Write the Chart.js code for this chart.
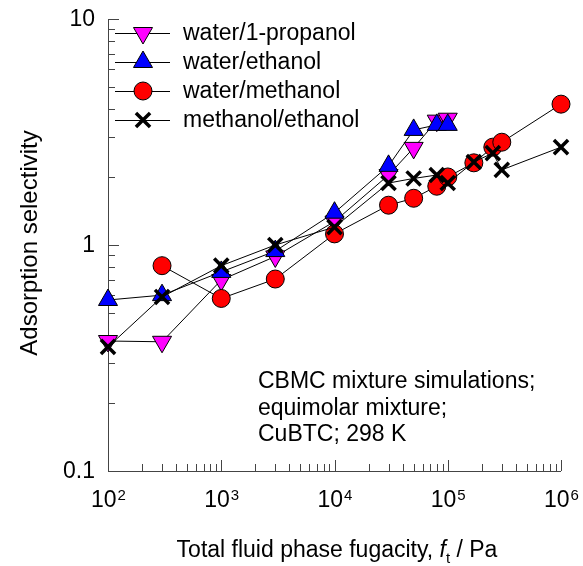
<!DOCTYPE html>
<html>
<head>
<meta charset="utf-8">
<script src="https://cdn.jsdelivr.net/npm/chart.js@4"></script>
<style>
  body { margin: 0; background: #fff; }
  canvas { display: block; }
</style>
</head>
<body>
<canvas id="selChart" width="583" height="566"></canvas>
<script>
// fugacities (Pa) and adsorption selectivities
const propanolX = [1e2, 3e2, 1e3, 3e3, 1e4, 3e4, 5e4, 8e4, 1e5];
const propanolY = [0.376, 0.373, 0.70, 0.89, 1.27, 2.04, 2.69, 3.55, 3.62];

const ethanolX = [1e2, 3e2, 1e3, 3e3, 1e4, 3e4, 5e4, 8e4, 1e5];
const ethanolY = [0.571, 0.60, 0.76, 0.94, 1.39, 2.24, 3.23, 3.40, 3.40];

const methanolX = [3e2, 1e3, 3e3, 1e4, 3e4, 5e4, 8e4, 1e5, 1.7e5, 2.5e5, 3e5, 1e6];
const methanolY = [0.81, 0.58, 0.707, 1.12, 1.50, 1.61, 1.82, 2.0, 2.31, 2.71, 2.85, 4.2];

const methEthX = [1e2, 3e2, 1e3, 3e3, 1e4, 3e4, 5e4, 8e4, 1e5, 1.7e5, 2.5e5, 3e5, 1e6];
const methEthY = [0.354, 0.589, 0.81, 1.0, 1.2, 1.88, 1.97, 2.04, 1.88, 2.33, 2.55, 2.15, 2.71];

const xTicks = [1e2, 1e3, 1e4, 1e5, 1e6];
const xTickExp = ["2", "3", "4", "5", "6"];
const yTicks = [0.1, 1, 10];
const yTickLabels = ["0.1", "1", "10"];

const noteLines = ["CBMC mixture simulations;", "equimolar mixture;", "CuBTC; 298 K"];

const FONT = '"Liberation Sans", Arial, sans-serif';

function pts(xs, ys) {
  return xs.map((x, i) => ({ x: x, y: ys[i] }));
}

const seriesList = [
  { label: "water/1-propanol", data: pts(propanolX, propanolY), style: "triangle", rot: 180, r: 11, fill: "#ff00ff", bw: 1, order: 4 },
  { label: "water/ethanol", data: pts(ethanolX, ethanolY), style: "triangle", rot: 0, r: 11, fill: "#0000ff", bw: 1, order: 3 },
  { label: "water/methanol", data: pts(methanolX, methanolY), style: "circle", rot: 0, r: 9, fill: "#ff0000", bw: 1, order: 2 },
  { label: "methanol/ethanol", data: pts(methEthX, methEthY), style: "crossRot", rot: 0, r: 10, fill: "#000", bw: 3.5, order: 1 },
];

const axesPlugin = {
  id: "axesPlugin",
  beforeDatasetsDraw(chart) {
    const ctx = chart.ctx;
    const xs = chart.scales.x;
    const ys = chart.scales.y;
    const a = chart.chartArea;
    ctx.save();
    ctx.strokeStyle = "#444";
    ctx.lineWidth = 1;
    ctx.beginPath();
    ctx.moveTo(a.left + 0.5, a.top);
    ctx.lineTo(a.left + 0.5, a.bottom + 0.5);
    ctx.lineTo(a.right, a.bottom + 0.5);
    // x ticks, pointing up into the plot
    for (let d = 2; d < 6; d++) {
      for (let m = 1; m <= 10; m++) {
        const v = m * Math.pow(10, d);
        const px = Math.round(xs.getPixelForValue(v)) + 0.5;
        const len = (m === 1 || m === 10) ? 11 : 7;
        ctx.moveTo(px, a.bottom);
        ctx.lineTo(px, a.bottom - len);
      }
    }
    // y ticks, pointing right into the plot
    for (let d = -1; d < 1; d++) {
      for (let m = 1; m <= 10; m++) {
        const v = m * Math.pow(10, d);
        const py = Math.round(ys.getPixelForValue(v)) + 0.5;
        const len = (m === 1 || m === 10) ? 11 : 7;
        ctx.moveTo(a.left, py);
        ctx.lineTo(a.left + len, py);
      }
    }
    ctx.stroke();
    ctx.restore();
  },
  afterDraw(chart) {
    const ctx = chart.ctx;
    const xs = chart.scales.x;
    const ys = chart.scales.y;
    ctx.save();
    ctx.fillStyle = "#000";

    // y tick labels
    ctx.font = "23px " + FONT;
    ctx.textAlign = "right";
    ctx.textBaseline = "middle";
    yTicks.forEach((v, i) => {
      ctx.fillText(yTickLabels[i], 95, ys.getPixelForValue(v) + 1);
    });

    // x tick labels: 10 with superscript exponent
    ctx.textAlign = "left";
    ctx.textBaseline = "alphabetic";
    xTicks.forEach((v, i) => {
      ctx.font = "23px " + FONT;
      const wBase = ctx.measureText("10").width;
      ctx.font = "15px " + FONT;
      const wExp = ctx.measureText(xTickExp[i]).width;
      const x0 = xs.getPixelForValue(v) - (wBase + wExp) / 2;
      ctx.font = "23px " + FONT;
      ctx.fillText("10", x0, 507);
      ctx.font = "15px " + FONT;
      ctx.fillText(xTickExp[i], x0 + wBase + 1, 500);
    });

    // x axis title with italic f and subscript t
    const parts = [
      { t: "Total fluid phase fugacity, ", f: "23px " + FONT, dy: 0 },
      { t: "f", f: "italic 23px " + FONT, dy: 0 },
      { t: "t", f: "15px " + FONT, dy: 6 },
      { t: " / Pa", f: "23px " + FONT, dy: 0 },
    ];
    let total = 0;
    parts.forEach((p) => { ctx.font = p.f; p.w = ctx.measureText(p.t).width; total += p.w; });
    let cx = 337 - total / 2;
    parts.forEach((p) => {
      ctx.font = p.f;
      ctx.fillText(p.t, cx, 557 + p.dy);
      cx += p.w;
    });

    // y axis title
    ctx.save();
    ctx.translate(30, 243);
    ctx.rotate(-Math.PI / 2);
    ctx.font = "24px " + FONT;
    ctx.textAlign = "center";
    ctx.textBaseline = "middle";
    ctx.fillText("Adsorption selectivity", 0, 0);
    ctx.restore();

    // annotation
    ctx.font = "23px " + FONT;
    ctx.textAlign = "left";
    noteLines.forEach((s, i) => {
      ctx.fillText(s, 258, 388 + i * 26.5);
    });

    // legend: line + marker + label
    seriesList.forEach((s, i) => {
      const y = 33 + i * 29;
      ctx.strokeStyle = "#000";
      ctx.lineWidth = 1;
      ctx.beginPath();
      ctx.moveTo(115, y + 0.5);
      ctx.lineTo(170, y + 0.5);
      ctx.stroke();
      ctx.fillStyle = s.fill;
      ctx.strokeStyle = "#000";
      ctx.lineWidth = s.bw;
      Chart.helpers.drawPoint(ctx, { pointStyle: s.style, rotation: s.rot, radius: s.r, borderWidth: s.bw }, 143, y);
      ctx.fillStyle = "#000";
      ctx.font = "23px " + FONT;
      ctx.textBaseline = "middle";
      ctx.fillText(s.label, 183, y + 1);
    });
    ctx.restore();
  },
};

new Chart(document.getElementById("selChart").getContext("2d"), {
  type: "line",
  data: {
    datasets: seriesList.map((s) => ({
      label: s.label,
      data: s.data,
      order: s.order,
      showLine: true,
      tension: 0,
      clip: false,
      borderColor: "#000",
      borderWidth: 1,
      pointStyle: s.style,
      pointRotation: s.rot,
      pointRadius: s.r,
      pointHoverRadius: s.r,
      pointBackgroundColor: s.fill,
      pointBorderColor: "#000",
      pointBorderWidth: s.bw,
    })),
  },
  options: {
    responsive: false,
    animation: false,
    layout: { padding: { left: 108, right: 22, top: 19, bottom: 95 } },
    scales: {
      x: { type: "logarithmic", min: 1e2, max: 1e6, display: false },
      y: { type: "logarithmic", min: 0.1, max: 10, display: false },
    },
    plugins: {
      legend: { display: false },
      tooltip: { enabled: false },
    },
  },
  plugins: [axesPlugin],
});
</script>
</body>
</html>
